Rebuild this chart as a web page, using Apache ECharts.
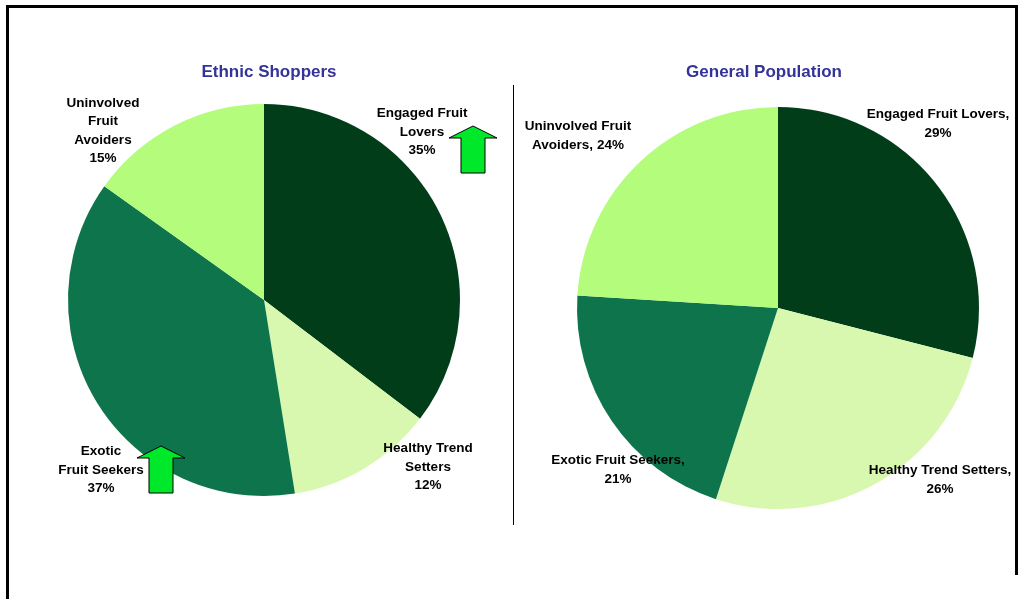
<!DOCTYPE html>
<html>
<head>
<meta charset="utf-8">
<script src="https://cdn.jsdelivr.net/npm/echarts@6/dist/echarts.min.js"></script>
<style>
  html, body { margin: 0; padding: 0; background: #ffffff; }
  #chart { width: 1018px; height: 599px; }
</style>
</head>
<body>
<div id="chart"></div>
<script>
// Segment names and shares (%) for the two groups
const segments = ['Engaged Fruit Lovers', 'Healthy Trend Setters', 'Exotic Fruit Seekers', 'Uninvolved Fruit Avoiders'];
const ethnicValues = [35, 12, 37, 15];
const generalValues = [29, 26, 21, 24];
const titles = ['Ethnic Shoppers', 'General Population'];

// Label text: the left pie stacks words, the right pie uses "name, value%"
const ethnicLabels = ['Engaged Fruit\nLovers', 'Healthy Trend\nSetters', 'Exotic\nFruit Seekers', 'Uninvolved\nFruit\nAvoiders'];
const generalLabels = ['Engaged Fruit Lovers,', 'Healthy Trend Setters,', 'Exotic Fruit Seekers,', 'Uninvolved Fruit\nAvoiders,'];

const colors = ['#003d18', '#d8f8b0', '#0e744b', '#b3fc7c'];

// Label anchor points (centre of each text block)
const ethnicLabelPos = [[422, 132], [428, 467], [101, 470], [103, 131]];
const generalLabelPos = [[938, 124], [940, 480], [618, 470], [578, 136]];

function pieData(values, labels) {
  return values.map((v, i) => ({
    name: segments[i],
    value: v,
    labelText: labels[i],
    itemStyle: { color: colors[i] }
  }));
}

const labelStyle = {
  show: true,
  position: 'inside',
  fontFamily: 'Liberation Sans, Arial, sans-serif',
  fontWeight: 'bold',
  fontSize: 13.5,
  lineHeight: 18.5,
  color: '#000000',
  align: 'center',
  overflow: 'none'
};

function makeLayout(pos) {
  return function (params) {
    const p = pos[params.dataIndex];
    return {
      x: p[0],
      y: p[1],
      align: 'center',
      verticalAlign: 'middle'
    };
  };
}

// Up-arrow outline, relative to its tip
function arrowShape(tipX, tipY) {
  return [
    [tipX, tipY],
    [tipX + 24, tipY + 12],
    [tipX + 12, tipY + 12],
    [tipX + 12, tipY + 47],
    [tipX - 12, tipY + 47],
    [tipX - 12, tipY + 12],
    [tipX - 24, tipY + 12]
  ];
}

const chart = echarts.init(document.getElementById('chart'), null, { renderer: 'canvas' });

const titleFont = { fontFamily: 'Liberation Sans, Arial, sans-serif', fontWeight: 'bold', fontSize: 17, color: '#333399' };

chart.setOption({
  backgroundColor: '#ffffff',
  animation: false,
  title: [
    { text: titles[0], left: 264, top: 59, textAlign: 'center', textStyle: titleFont },
    { text: titles[1], left: 759, top: 59, textAlign: 'center', textStyle: titleFont }
  ],
  series: [
    {
      type: 'pie',
      center: [264, 300],
      radius: 196,
      startAngle: 90,
      clockwise: true,
      silent: true,
      data: pieData(ethnicValues, ethnicLabels),
      itemStyle: { borderWidth: 0 },
      label: Object.assign({}, labelStyle, {
        formatter: p => p.data.labelText + '\n' + p.value + '%'
      }),
      labelLine: { show: false },
      labelLayout: makeLayout(ethnicLabelPos)
    },
    {
      type: 'pie',
      center: [778, 308],
      radius: 201,
      startAngle: 90,
      clockwise: true,
      silent: true,
      data: pieData(generalValues, generalLabels),
      itemStyle: { borderWidth: 0 },
      label: Object.assign({}, labelStyle, {
        formatter: p => p.data.labelText + (p.data.labelText.indexOf('\n') >= 0 ? ' ' : '\n') + p.value + '%'
      }),
      labelLine: { show: false },
      labelLayout: makeLayout(generalLabelPos)
    }
  ],
  graphic: [
    // frame
    { type: 'line', shape: { x1: 7.5, y1: 6.5, x2: 7.5, y2: 599 }, style: { stroke: '#000', lineWidth: 3 } },
    { type: 'line', shape: { x1: 6, y1: 6.5, x2: 1018, y2: 6.5 }, style: { stroke: '#000', lineWidth: 3 } },
    { type: 'line', shape: { x1: 1016.5, y1: 5, x2: 1016.5, y2: 575 }, style: { stroke: '#000', lineWidth: 3 } },
    // divider between the two pies
    { type: 'line', shape: { x1: 513.5, y1: 85, x2: 513.5, y2: 525 }, style: { stroke: '#000', lineWidth: 1 } },
    // increase markers
    { type: 'polygon', shape: { points: arrowShape(473, 126) }, style: { fill: '#00e82a', stroke: '#000', lineWidth: 1 }, z: 10 },
    { type: 'polygon', shape: { points: arrowShape(161, 446) }, style: { fill: '#00e82a', stroke: '#000', lineWidth: 1 }, z: 10 }
  ]
});
</script>
</body>
</html>
